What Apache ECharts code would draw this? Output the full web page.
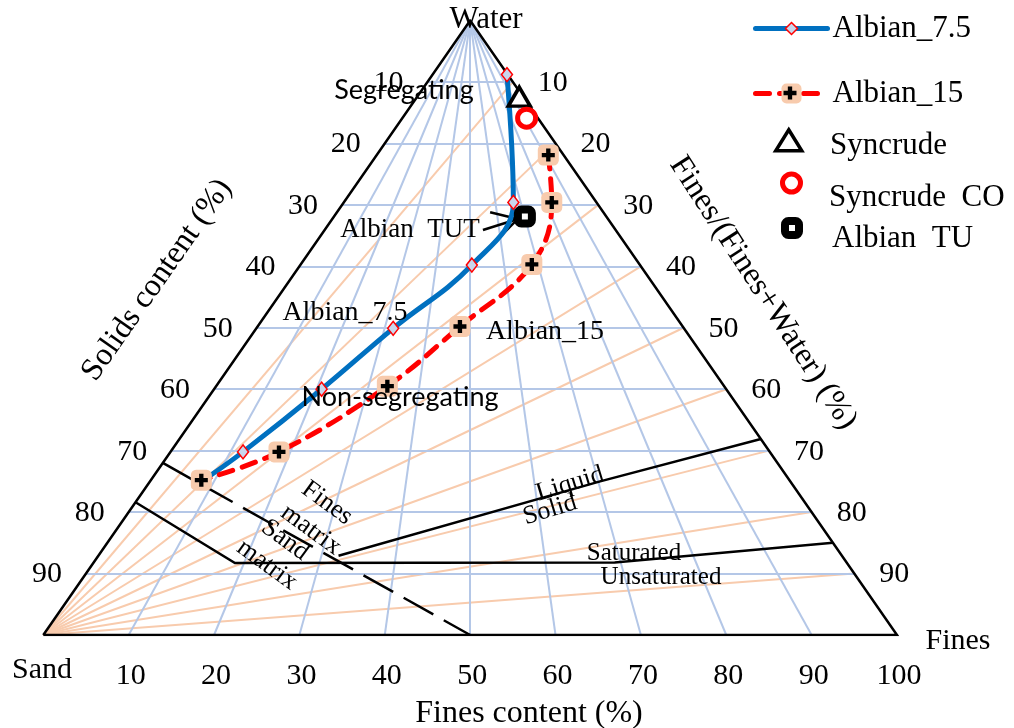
<!DOCTYPE html>
<html><head><meta charset="utf-8">
<script src="https://cdn.jsdelivr.net/npm/echarts@6/dist/echarts.min.js"></script>
<style>html,body{margin:0;padding:0;background:#fff}#c{width:1014px;height:728px}</style>
</head><body><div id="c"></div>
<script>
// Each point: [Fines content (%), Solids content (%)]
const albian75   = [[99,8.8],[67.1,29.6],[50.5,39.8],[32.0,50.1],[21.0,60.0],[12.1,70.2],[8.5,74.5]];
const albian15   = [[91.8,21.9],[82.3,29.6],[68.2,39.7],[47.6,49.8],[33.7,59.5],[18.1,70.2],[7.9,74.8]];
const syncrude   = [[96.4,12.4]];
const syncrudeCO = [[91.6,15.9]];
const albianTU   = [[70.1,31.9]];
// tick labels
const solidsTicks = [10,20,30,40,50,60,70,80,90];
const ratioTicks  = [10,20,30,40,50,60,70,80,90];   // Fines/(Fines+Water)
const finesTicks  = [10,20,30,40,50,60,70,80,90,100];
// boundary lines [Fines content, Solids content]
const finesMatrixLine = [[0,72.0],[50,100]];
const sandMatrixLine  = [[0,78.4],[18.8,88.3],[69.2,88.2],[100,85.0]];
const liquidSolidLine = [[32.3,87.1],[70.3,75.0],[100,68.1]];
const tutArrow = [[[54.4,34.1],[67.3,32.3]],[[57.5,31.2],[67.3,32.3]],[[58.8,35.7],[67.3,32.3]]];

function toXY(p){ return [50 + (p[0]-50)*p[1]/100, p[1]]; }

const TIMES = '"Liberation Serif","Times New Roman",serif';
const SANS = 'Lato,"Liberation Sans",sans-serif';
const plusPath = 'path://M4,0h4v4h4v4h-4v4h-4v-4h-4v-4h4z';

function linesSeries(data, style, polyline, z){
  return {type:'lines', coordinateSystem:'cartesian2d', polyline:!!polyline, silent:true, z:z,
    lineStyle:Object.assign({opacity:1}, style), data:data};
}
function tickSeries(vals, fn, offset){
  return {type:'scatter', silent:true, z:8, symbolSize:1, itemStyle:{color:'rgba(0,0,0,0)', opacity:1},
    data: vals.map(v => { const p = toXY(fn(v)); return [p[0], p[1], v]; }),
    label:{show:true, position:'inside', offset:offset, formatter:p=>String(p.value[2]),
      fontFamily:TIMES, fontSize:30, color:'#000'}};
}
function txt(text, x, y, size, font, rot){
  return {type:'text', x:x, y:y, rotation:(rot||0)*Math.PI/180, z:20,
    style:{text:text, font:size+'px '+font, fill:'#000', align:'center', verticalAlign:'middle',
      textAlign:'center', textVerticalAlign:'middle'}};
}
const legText = {fontFamily:TIMES, fontSize:31, color:'#000', lineHeight:30};
function iconLegend(name, left, top, w, h){
  return {data:[name], left:left, top:top, itemWidth:w, itemHeight:h, padding:0, selectedMode:false,
    formatter:()=>'', textStyle:legText, itemStyle:{borderWidth:'inherit', opacity:1}};
}
function textLegend(name, left, top){
  return {data:[name], left:left, top:top, itemWidth:1, itemHeight:1, padding:0, selectedMode:false,
    icon:'circle', itemStyle:{color:'rgba(0,0,0,0)', borderWidth:0}, textStyle:legText};
}

const option = {
  animation:false,
  backgroundColor:'#fff',
  grid:{left:43.3, right:117, top:20.5, bottom:93},
  xAxis:{type:'value', min:0, max:100, show:false},
  yAxis:{type:'value', min:0, max:100, inverse:true, show:false},
  legend:[
    {data:['Albian_7.5'], left:753, top:13, itemWidth:72, itemHeight:15, padding:0, selectedMode:false,
      textStyle:legText, lineStyle:{width:'inherit'}, itemStyle:{borderWidth:'inherit'}},
    {data:['Albian_15'], left:753, top:78, itemWidth:72, itemHeight:25, padding:0, selectedMode:false,
      textStyle:legText, lineStyle:{width:'inherit'}, itemStyle:{borderWidth:'inherit'}},
    iconLegend('Albian_15 +', 783.5, 86.5, 13, 13),
    iconLegend('Syncrude', 774, 128, 26, 21),
    textLegend('Syncrude', 824, 130),
    iconLegend('Syncrude  CO', 780, 171.5, 18, 18),
    textLegend('Syncrude  CO', 823, 182),
    iconLegend('Albian  TU', 781, 217, 14, 14),
    textLegend('Albian  TU', 826, 223)
  ],
  graphic:[
    txt('Water', 486, 20, 31, TIMES),
    txt('Sand', 42, 670, 30, TIMES),
    txt('Fines', 958, 641, 30, TIMES),
    txt('Fines content (%)', 529, 714, 32, TIMES),
    txt('Solids content (%)', 157, 280, 32, TIMES, 55),
    txt('Fines/(Fines+Water) (%)', 763, 293, 32, TIMES, -57),
    txt('Segregating', 404, 90, 27, SANS),
    txt('Non-segregating', 400, 397, 27, SANS),
    txt('Albian  TUT', 410, 230, 27, TIMES),
    txt('Albian_7.5', 345, 313, 28, TIMES),
    txt('Albian_15', 545, 332, 28, TIMES),
    txt('Fines', 327, 503, 26, TIMES, -36),
    txt('matrix', 311, 530, 26, TIMES, -36),
    txt('Sand', 285, 540, 26, TIMES, -36),
    txt('matrix', 267, 565, 26, TIMES, -36),
    txt('Liquid', 570, 484, 26, TIMES, 17),
    txt('Solid', 550, 510, 26, TIMES, 17),
    txt('Saturated', 634, 553, 25, TIMES),
    txt('Unsaturated', 661, 577, 25, TIMES)
  ],
  series:[
    linesSeries(ratioTicks.map(r => ({coords:[toXY([0,100]), toXY([100,r])]})), {color:'#F8CBAD', width:2}, false, 1),
    linesSeries(finesTicks.filter(f=>f<100).map(f => ({coords:[toXY([f,0]), toXY([f,100])]})), {color:'#B4C7E7', width:2}, false, 1),
    linesSeries(solidsTicks.map(s => ({coords:[toXY([0,s]), toXY([100,s])]})), {color:'#B4C7E7', width:2}, false, 1),
    linesSeries([{coords:[toXY([0,100]), toXY([50,0]), toXY([100,100]), toXY([0,100])]}], {color:'#000', width:2.5}, true, 3),
    linesSeries([{coords:finesMatrixLine.map(toXY)}], {color:'#000', width:2.5, type:[34,12]}, true, 3),
    linesSeries([{coords:sandMatrixLine.map(toXY)}], {color:'#000', width:2.5}, true, 3),
    linesSeries([{coords:liquidSolidLine.map(toXY)}], {color:'#000', width:2.5}, true, 3),
    linesSeries(tutArrow.map(seg => ({coords:seg.map(toXY)})), {color:'#000', width:2.5}, false, 3),
    {name:'Albian_7.5', type:'line', z:5, smooth:0.4, data:albian75.map(toXY),
      lineStyle:{color:'#0070C0', width:5, cap:'round'},
      symbol:'diamond', symbolSize:[11,14],
      itemStyle:{color:'#C9D6EC', borderColor:'#FF0000', borderWidth:1.5}},
    {name:'Albian_15', type:'line', z:6, smooth:0.4, data:albian15.map(toXY),
      lineStyle:{color:'#FF0000', width:5, type:[14,10], cap:'round'},
      symbol:'roundRect', symbolSize:21,
      itemStyle:{color:'#F8CBAD', borderWidth:0}},
    {name:'Albian_15 +', type:'scatter', z:7, data:albian15.map(toXY),
      symbol:plusPath, symbolSize:13, itemStyle:{color:'#000', opacity:1}},
    {name:'Syncrude', type:'scatter', z:6, data:syncrude.map(toXY),
      symbol:'triangle', symbolSize:[22,19], itemStyle:{color:'#fff', borderColor:'#000', borderWidth:3.5, opacity:1}},
    {name:'Syncrude  CO', type:'scatter', z:6, data:syncrudeCO.map(toXY),
      symbol:'circle', symbolSize:18, itemStyle:{color:'#fff', borderColor:'#FF0000', borderWidth:5, opacity:1}},
    {name:'Albian  TU', type:'scatter', z:6, data:albianTU.map(toXY),
      symbol:'roundRect', symbolSize:14, itemStyle:{color:'#fff', borderColor:'#000', borderWidth:8, opacity:1}},
    tickSeries(solidsTicks, s => [0,s], [-39,1]),
    tickSeries(ratioTicks, r => [100,r], [40,1]),
    tickSeries(finesTicks, f => [f,100], [2,41])
  ]
};
const chart = echarts.init(document.getElementById('c'), null, {renderer:'canvas'});
chart.setOption(option);
</script></body></html>
